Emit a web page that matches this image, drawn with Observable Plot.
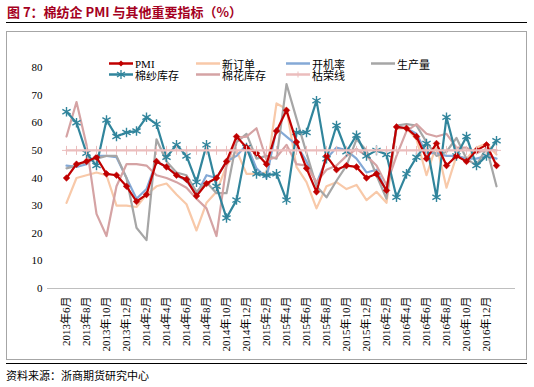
<!DOCTYPE html>
<html><head><meta charset="utf-8">
<script src="https://cdn.jsdelivr.net/npm/d3@7"></script>
<script src="https://cdn.jsdelivr.net/npm/@observablehq/plot@0.6"></script>
<style>
body{margin:0;width:534px;height:387px;position:relative;background:#fff;overflow:hidden;font-family:"Liberation Serif","Noto Sans CJK SC",serif;}
#title{position:absolute;left:7px;top:2px;font:bold 13px "Noto Sans CJK SC",sans-serif;color:#A50021;white-space:nowrap;}
#rule1{position:absolute;left:6px;top:22px;width:521px;border-top:1.5px solid #000;}
#box{position:absolute;left:6px;top:31px;width:519px;height:327px;border:1px solid #A6A6A6;}
#chart{position:absolute;left:6px;top:31px;}
#rule2{position:absolute;left:6px;top:363px;width:521px;border-top:1.5px solid #000;}
#source{position:absolute;left:6px;top:367px;font:11px "Noto Sans CJK SC",sans-serif;color:#000;white-space:nowrap;}
.lg{position:absolute;height:11px;display:flex;align-items:center;font:11px "Liberation Serif","Noto Sans CJK SC",serif;white-space:nowrap;color:#000;}
.lg svg{margin-right:1px;}
</style></head>
<body>
<div id="title">图 7：棉纺企 PMI 与其他重要指标（%）</div>
<div id="rule1"></div>
<div id="box"></div>
<div id="chart"></div>
<div id="legend"></div>
<div id="rule2"></div>
<div id="source">资料来源：浙商期货研究中心</div>
<script>
const months = ["2013年6月","2013年7月","2013年8月","2013年9月","2013年10月","2013年11月","2013年12月","2014年1月","2014年2月","2014年3月","2014年4月","2014年5月","2014年6月","2014年7月","2014年8月","2014年9月","2014年10月","2014年11月","2014年12月","2015年1月","2015年2月","2015年3月","2015年4月","2015年5月","2015年6月","2015年7月","2015年8月","2015年9月","2015年10月","2015年11月","2015年12月","2016年1月","2016年2月","2016年3月","2016年4月","2016年5月","2016年6月","2016年7月","2016年8月","2016年9月","2016年10月","2016年11月","2016年12月","2017年1月"];
const xTickLabels = ["2013年6月","2013年8月","2013年10月","2013年12月","2014年2月","2014年4月","2014年6月","2014年8月","2014年10月","2014年12月","2015年2月","2015年4月","2015年6月","2015年8月","2015年10月","2015年12月","2016年2月","2016年4月","2016年6月","2016年8月","2016年10月","2016年12月"];
const yTicks = [0,10,20,30,40,50,60,70,80];

const pmi        = [40,45,46,47.5,41.5,41,37,31.5,34,46,44,41,39.5,33.5,38,40,46,55,51,49,45,57,64.5,53,43.5,35,48,43,44.5,44,40,41.5,35.5,58.5,58,55,47,52.5,44.5,48,46,50,52,44.5];
const newOrders  = [31,40,41,42,41,30,30,29.5,34,37,38,34,30.5,21,31,35,44.5,50,41.5,41.5,42,67,65,44,38.5,29,37,38.5,36,37.5,32,35,31,58,58,54,41,52,36.5,48,47,51,52.5,48.5];
const operating  = [44.5,44,45,48,48,47.5,40,32.5,36,46,44,41,39,34,41,40,46,48,52,43.5,40,58,55,52,46,38,47,51,50,47,42,43,35,58.5,58,56,49,49,48,48,47,47,48,47];
const production = [43.5,44.5,46,47,48,48,40,22,17.5,54,46,42,41,35,38.5,34.5,34.5,53,56,47,48,47,74,61.5,49,37,33,39,44.5,54,50,41,32.5,59,59.5,59,53,48,49.5,54.5,47,44.5,51,37];
const yarnInv    = [64,60,49,44.5,61,55,56.5,57,62,59.5,47.5,52,48,38.5,52,37,25.5,32,51,41.5,41,41.5,32,56.5,56.5,68,47,59,49.5,55.5,48,50,48.5,33,41.5,47.5,52.5,33,62,48,55,44.5,48,53.5];
const cottonInv  = [55,67.5,52,27,19,37,45,45,44.5,41,40,38.5,36.5,32.5,29,19,44.5,54.5,55,58,46.5,47.5,52,45,44.5,38.5,43,44.5,48,50.5,48,44.5,37.5,48,57,59.5,56,55,56,51,51,49,50.5,50];
const boomBust   = [50,50,50,50,50,50,50,50,50,50,50,50,50,50,50,50,50,50,50,50,50,50,50,50,50,50,50,50,50,50,50,50,50,50,50,50,50,50,50,50,50,50,50,50];

const seriesNames = ["PMI","新订单","开机率","生产量","棉纱库存","棉花库存","枯荣线"];
const seriesValues = [pmi,newOrders,operating,production,yarnInv,cottonInv,boomBust];
const seriesColors = ["#C00000","#F8C9A9","#84A9D6","#A6A6A6","#31859C","#D5A3A4","#EBBDBD"];
const seriesSymbols = ["diamond2",null,null,null,"asterisk",null,"plus"];

const tables = seriesValues.map(vals => vals.map((v,i) => ({month: months[i], value: v})));

const marks = [
  Plot.axisY({ticks: yTicks, tickSize: 0, tickPadding: 5, label: null, line: true, stroke: "#BFBFBF", fill: "#000"}),
  Plot.axisX({ticks: xTickLabels, tickSize: 0, tickPadding: 8, tickRotate: -90, label: null, fill: "#000"}),
  Plot.ruleY([0], {stroke: "#BFBFBF"})
];
const drawOrder = [1,2,3,5,4,0,6];
drawOrder.forEach(k => {
  marks.push(Plot.line(tables[k], {x: "month", y: "value", stroke: seriesColors[k], strokeWidth: 2.2, curve: "linear"}));
  if (seriesSymbols[k] === "diamond2") marks.push(Plot.dot(tables[k], {x: "month", y: "value", symbol: "diamond2", r: 3, fill: seriesColors[k], stroke: seriesColors[k], strokeWidth: 0.5}));
  if (seriesSymbols[k] === "asterisk") marks.push(Plot.dot(tables[k], {x: "month", y: "value", symbol: "asterisk", r: 4.5, stroke: seriesColors[k], strokeWidth: 1.4}));
  if (seriesSymbols[k] === "plus") marks.push(Plot.dot(tables[k], {x: "month", y: "value", symbol: "plus", r: 3, stroke: seriesColors[k], strokeWidth: 1}));
});

const chart = Plot.plot({
  width: 520, height: 328,
  marginLeft: 41, marginRight: 11, marginTop: 36, marginBottom: 71,
  style: {fontFamily: '"Liberation Serif","Noto Sans CJK SC",serif', fontSize: "11px", color: "#000", background: "transparent", overflow: "visible"},
  x: {type: "point", domain: months, padding: 0.5, label: null},
  y: {domain: [0, 80], label: null},
  marks
});
document.getElementById("chart").appendChild(chart);

// legend overlay
const legendPos = [[108,58],[195,58],[285,58],[370,58],[108,69],[195,69],[285,69]];
const legend = document.getElementById("legend");
seriesNames.forEach((name,k) => {
  const d = document.createElement("div");
  d.className = "lg";
  d.style.left = legendPos[k][0] + "px";
  d.style.top = legendPos[k][1] + "px";
  const c = seriesColors[k];
  let sym = "";
  if (seriesSymbols[k] === "diamond2") sym = `<path d="M13,2.5 L16,5.5 L13,8.5 L10,5.5 Z" fill="${c}"/>`;
  if (seriesSymbols[k] === "asterisk") sym = `<path d="M13,1 V10 M9,3 L17,8 M17,3 L9,8" stroke="${c}" stroke-width="1.3"/>`;
  if (seriesSymbols[k] === "plus") sym = `<path d="M13,2.5 V8.5" stroke="${c}" stroke-width="1"/>`;
  d.innerHTML = `<svg width="26" height="11"><line x1="1" x2="25" y1="5.5" y2="5.5" stroke="${c}" stroke-width="2.5"/>${sym}</svg><span>${name}</span>`;
  legend.appendChild(d);
});
</script>
</body></html>
